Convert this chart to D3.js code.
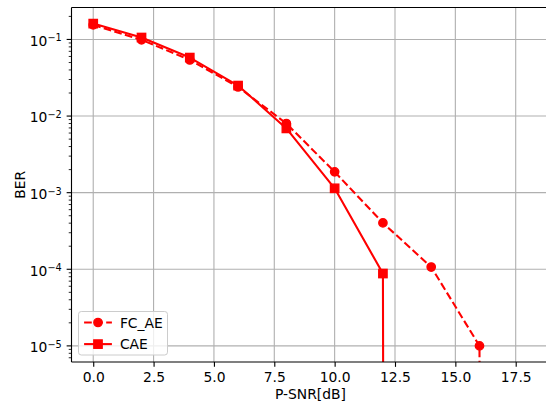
<!DOCTYPE html>
<html>
<head>
<meta charset="utf-8">
<script src="https://cdn.jsdelivr.net/npm/d3@7"></script>
<style>
  html, body { margin: 0; padding: 0; background: #fff; }
  svg { display: block; font-family: "DejaVu Sans", sans-serif; }
</style>
</head>
<body>
<svg id="chart" width="546" height="402"></svg>
<script>
// P-SNR sweep and measured bit error rates (0 = no errors observed)
const snr = [0, 2, 4, 6, 8, 10, 12, 14, 16, 18];
const berFcAe = [0.155, 0.099, 0.054, 0.024, 0.008, 0.00187, 0.000403, 0.000107, 1.0e-5, 0];
const berCae = [0.161, 0.106, 0.058, 0.025, 0.0069, 0.00114, 8.8e-5, 0, 0, 0];
const xTicks = [0, 2.5, 5, 7.5, 10, 12.5, 15, 17.5];
const yDecades = [-5, -4, -3, -2, -1];
const seriesNames = ["FC_AE", "CAE"];

const PT = 100 / 72; // points -> pixels
const W = 546, H = 402;
const plot = { left: 71.5, right: 549.5, top: 7.5, bottom: 362 };

const svg = d3.select("#chart");
const red = "#ff0000";

// x: linear with 5% margins
const xMin = d3.min(snr), xMax = d3.max(snr), xPad = (xMax - xMin) * 0.05;
const x = d3.scaleLinear().domain([xMin - xPad, xMax + xPad]).range([plot.left, plot.right]);

// y: log with 5% margins (in decades) over the positive values
const positives = berFcAe.concat(berCae).filter(v => v > 0);
const lo = Math.log10(d3.min(positives)), hi = Math.log10(d3.max(positives));
const yPad = (hi - lo) * 0.05;
const y = d3.scaleLog().domain([Math.pow(10, lo - yPad), Math.pow(10, hi + yPad)]).range([plot.bottom, plot.top]);
const yv = v => y(v > 0 ? v : 1e-300); // non-positive values clipped far below

svg.append("defs").append("clipPath").attr("id", "plotClip")
  .append("rect")
  .attr("x", plot.left).attr("y", plot.top)
  .attr("width", plot.right - plot.left).attr("height", plot.bottom - plot.top);

// grid (major ticks only)
const grid = svg.append("g").attr("stroke", "#b0b0b0").attr("stroke-width", 0.8 * PT);
xTicks.forEach(t => grid.append("line")
  .attr("x1", x(t)).attr("x2", x(t)).attr("y1", plot.top).attr("y2", plot.bottom));
yDecades.forEach(d => grid.append("line")
  .attr("x1", plot.left).attr("x2", plot.right)
  .attr("y1", y(Math.pow(10, d))).attr("y2", y(Math.pow(10, d))));

// series
const series = [
  { name: seriesNames[0], values: berFcAe, dash: `${3.7 * 1.5 * PT},${1.6 * 1.5 * PT}`, marker: "circle" },
  { name: seriesNames[1], values: berCae, dash: null, marker: "square" }
];
const ms = 6 * PT, mew = 1 * PT, lw = 1.5 * PT;

function drawMarker(g, type, cx, cy) {
  if (type === "circle") {
    g.append("circle").attr("cx", cx).attr("cy", cy).attr("r", ms / 2)
      .attr("fill", red).attr("stroke", red).attr("stroke-width", mew);
  } else {
    g.append("rect").attr("x", cx - ms / 2).attr("y", cy - ms / 2)
      .attr("width", ms).attr("height", ms)
      .attr("fill", red).attr("stroke", red).attr("stroke-width", mew);
  }
}

const dataG = svg.append("g").attr("clip-path", "url(#plotClip)");
const line = d3.line().x((d, i) => x(snr[i])).y(d => yv(d));
series.forEach(s => {
  const g = dataG.append("g");
  g.append("path").attr("d", line(s.values))
    .attr("fill", "none").attr("stroke", red).attr("stroke-width", lw)
    .attr("stroke-dasharray", s.dash).attr("stroke-linejoin", "round");
  s.values.forEach((v, i) => { if (v > 0) drawMarker(g, s.marker, x(snr[i]), y(v)); });
});

// spines
const spine = svg.append("g").attr("stroke", "#000").attr("stroke-width", 0.8 * PT).attr("fill", "none");
spine.append("line").attr("x1", plot.left).attr("x2", plot.left).attr("y1", plot.top).attr("y2", plot.bottom);
spine.append("line").attr("x1", plot.left).attr("x2", plot.right).attr("y1", plot.bottom).attr("y2", plot.bottom);
spine.append("line").attr("x1", plot.left).attr("x2", plot.right).attr("y1", plot.top).attr("y2", plot.top);
spine.append("line").attr("x1", plot.right).attr("x2", plot.right).attr("y1", plot.top).attr("y2", plot.bottom);

const fs = 10 * PT;
const majLen = 3.5 * PT, minLen = 2 * PT, pad = 3.5 * PT;

// x axis ticks and labels
const xAxis = d3.axisBottom(x).tickValues(xTicks).tickFormat(d3.format(".1f"))
  .tickSize(majLen).tickPadding(pad);
const xg = svg.append("g").attr("transform", `translate(0,${plot.bottom})`).call(xAxis);
xg.select(".domain").remove();
xg.selectAll(".tick line").attr("stroke", "#000").attr("stroke-width", 0.8 * PT);
xg.selectAll(".tick text").attr("font-size", fs).attr("font-family", "DejaVu Sans")
  .attr("fill", "#000").attr("dy", null).attr("y", majLen + pad + fs * 0.76);

// y axis: major ticks with power-of-ten labels, minor ticks at 2..9
const yg = svg.append("g");
const [yLo, yHi] = y.domain();
for (let d = Math.floor(Math.log10(yLo)); d <= Math.ceil(Math.log10(yHi)); d++) {
  for (let m = 1; m <= 9; m++) {
    const v = m * Math.pow(10, d);
    if (v < yLo || v > yHi) continue;
    const py = y(v);
    const len = m === 1 ? majLen : minLen;
    yg.append("line").attr("x1", plot.left - len).attr("x2", plot.left)
      .attr("y1", py).attr("y2", py).attr("stroke", "#000")
      .attr("stroke-width", (m === 1 ? 0.8 : 0.6) * PT);
  }
}
yDecades.forEach(d => {
  const t = yg.append("text")
    .attr("x", plot.left - majLen - pad).attr("y", y(Math.pow(10, d)) + 6.3)
    .attr("text-anchor", "end").attr("font-size", fs).attr("fill", "#000");
  t.append("tspan").text("10");
  t.append("tspan").attr("font-size", fs * 0.7).attr("dy", -4.4).text("\u2212" + Math.abs(d));
});

// axis titles
svg.append("text").attr("x", (plot.left + plot.right) / 2).attr("y", 399)
  .attr("text-anchor", "middle").attr("font-size", fs).text("P-SNR[dB]");
svg.append("text").attr("transform", `translate(24.5,${(plot.top + plot.bottom) / 2}) rotate(-90)`)
  .attr("text-anchor", "middle").attr("font-size", fs).text("BER");

// legend (lower left)
const lg = svg.append("g");
const lx = plot.left + 7, lBottom = plot.bottom - 7, rowH = 21.6;
lg.append("rect").attr("x", lx).attr("y", lBottom - 43.5).attr("width", 89).attr("height", 43.5)
  .attr("rx", 2.8).attr("fill", "#fff").attr("fill-opacity", 0.8)
  .attr("stroke", "#cccccc").attr("stroke-width", 1);
series.forEach((s, i) => {
  const cy = lBottom - 32.5 + i * rowH;
  const x0 = lx + 5.6, x1 = x0 + 27.8;
  lg.append("line").attr("x1", x0).attr("x2", x1).attr("y1", cy).attr("y2", cy)
    .attr("stroke", red).attr("stroke-width", lw).attr("stroke-dasharray", s.dash);
  drawMarker(lg, s.marker, (x0 + x1) / 2, cy);
  lg.append("text").attr("x", x1 + 8).attr("y", cy + 5).attr("font-size", fs).text(s.name);
});
</script>
</body>
</html>
